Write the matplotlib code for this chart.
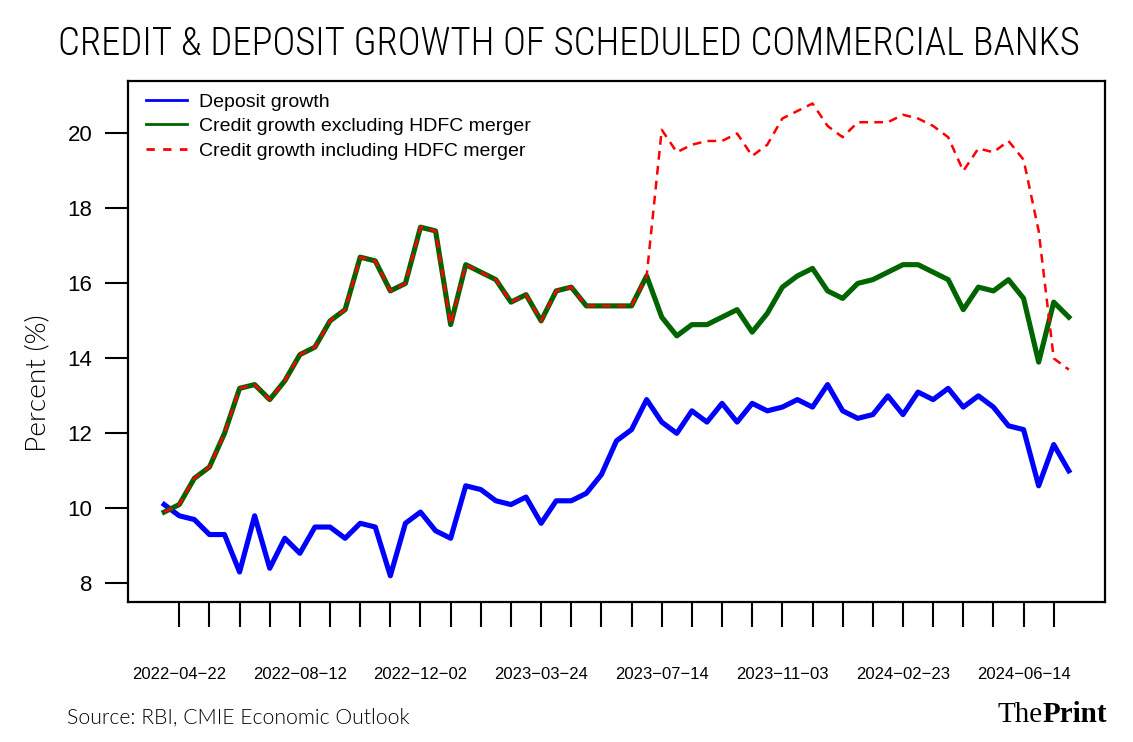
import os
import pandas as pd
import matplotlib
matplotlib.use('Agg')
import matplotlib.pyplot as plt
from matplotlib import font_manager as fm
from matplotlib.lines import Line2D

W, H = 1133, 742

# fortnightly data, 2022-04-08 .. 2024-07-26
dates = pd.date_range('2022-04-08', periods=61, freq='14D')

deposit = [10.1, 9.8, 9.7, 9.3, 9.3, 8.3, 9.8, 8.4, 9.2, 8.8,
           9.5, 9.5, 9.2, 9.6, 9.5, 8.2, 9.6, 9.9, 9.4, 9.2,
           10.6, 10.5, 10.2, 10.1, 10.3, 9.6, 10.2, 10.2, 10.4, 10.9,
           11.8, 12.1, 12.9, 12.3, 12.0, 12.6, 12.3, 12.8, 12.3, 12.8,
           12.6, 12.7, 12.9, 12.7, 13.3, 12.6, 12.4, 12.5, 13.0, 12.5,
           13.1, 12.9, 13.2, 12.7, 13.0, 12.7, 12.2, 12.1, 10.6, 11.7,
           11.0]

credit_ex = [9.9, 10.1, 10.8, 11.1, 12.0, 13.2, 13.3, 12.9, 13.4, 14.1,
             14.3, 15.0, 15.3, 16.7, 16.6, 15.8, 16.0, 17.5, 17.4, 14.9,
             16.5, 16.3, 16.1, 15.5, 15.7, 15.0, 15.8, 15.9, 15.4, 15.4,
             15.4, 15.4, 16.2, 15.1, 14.6, 14.9, 14.9, 15.1, 15.3, 14.7,
             15.2, 15.9, 16.2, 16.4, 15.8, 15.6, 16.0, 16.1, 16.3, 16.5,
             16.5, 16.3, 16.1, 15.3, 15.9, 15.8, 16.1, 15.6, 13.9, 15.5,
             15.1]

credit_in = [9.9, 10.1, 10.8, 11.1, 12.0, 13.2, 13.3, 12.9, 13.4, 14.1,
             14.3, 15.0, 15.3, 16.7, 16.6, 15.8, 16.0, 17.5, 17.4, 14.9,
             16.5, 16.3, 16.1, 15.5, 15.7, 15.0, 15.8, 15.9, 15.4, 15.4,
             15.4, 15.4, 16.2, 20.1, 19.5, 19.7, 19.8, 19.8, 20.0, 19.4,
             19.7, 20.4, 20.6, 20.8, 20.2, 19.9, 20.3, 20.3, 20.3, 20.5,
             20.4, 20.2, 19.9, 19.0, 19.6, 19.5, 19.8, 19.3, 17.4, 14.0,
             13.7]

tick_dates = pd.date_range('2022-04-22', periods=30, freq='28D')
label_dates = ['2022-04-22', '2022-08-12', '2022-12-02', '2023-03-24',
               '2023-07-14', '2023-11-03', '2024-02-23', '2024-06-14']
yticks = [8, 10, 12, 14, 16, 18, 20]

series_labels = ['Deposit growth',
                 'Credit growth excluding HDFC merger',
                 'Credit growth including HDFC merger']


def pick_font(files, fallback='DejaVu Sans'):
    have = {os.path.basename(f.fname).lower(): f.fname for f in fm.fontManager.ttflist}
    for name in files:
        if name.lower() in have:
            return fm.FontProperties(fname=have[name.lower()])
    return fm.FontProperties(family=fallback)


title_fp = pick_font(['RobotoCondensed-Light.ttf', 'Roboto_Condensed-Light.ttf',
                      'RobotoCondensed-Regular.ttf', 'LiberationSansNarrow-Regular.ttf',
                      'DejaVuSansCondensed.ttf'])
light_fp = pick_font(['Lato-Light.ttf', 'Roboto-Light.ttf', 'OpenSans-Light.ttf',
                      'Lato-Regular.ttf'])

plt.rcParams['font.family'] = ['Liberation Sans', 'DejaVu Sans']

fig = plt.figure(figsize=(W / 100, H / 100), dpi=100)
ax = fig.add_axes([128 / W, 1 - 602 / H, (1105 - 128) / W, (602 - 81) / H])

ax.plot(dates, deposit, color='#0000FF', lw=3.7)
ax.plot(dates, credit_ex, color='#006400', lw=3.7)
ax.plot(dates, credit_in, color='#FF0000', lw=1.8, dashes=(3.5, 2.5))

span = dates[-1] - dates[0]
ax.set_xlim(dates[0] - span * 0.04, dates[-1] + span * 0.04)
ax.set_ylim(7.5, 21.4)

ax.set_xticks(tick_dates)
ax.set_xticklabels([d.replace('-', '\u2212') if d in label_dates else ''
                    for d in tick_dates.strftime('%Y-%m-%d')])
ax.set_yticks(yticks)
ax.set_yticklabels([str(v) for v in yticks])
ax.tick_params(axis='x', direction='out', length=18, width=1.5, pad=29, labelsize=12)
ax.tick_params(axis='y', direction='out', length=16.5, width=1.5, pad=9, labelsize=16)
for s in ax.spines.values():
    s.set_linewidth(1.6)

handles = [Line2D([], [], color='#0000FF', lw=2),
           Line2D([], [], color='#006400', lw=2),
           Line2D([], [], color='#FF0000', lw=2, dashes=(3, 3))]
ax.legend(handles, series_labels, loc='upper left', frameon=False,
          bbox_to_anchor=(146 / W, 1 - 93 / H), bbox_transform=fig.transFigure,
          borderaxespad=0, borderpad=0, fontsize=14, handlelength=2.1,
          handletextpad=0.65, labelspacing=0.36)

title = fig.text(569 / W, 1 - 55 / H, 'CREDIT & DEPOSIT GROWTH OF SCHEDULED COMMERCIAL BANKS',
                 ha='center', va='baseline', fontproperties=title_fp, fontsize=40)
ylab = fig.text(38 / W, 1 - 383 / H, 'Percent (%)', rotation=90, ha='center', va='center',
                fontproperties=light_fp, fontsize=19)
src = fig.text(67 / W, 1 - 723 / H, 'Source: RBI, CMIE Economic Outlook', ha='left',
               va='baseline', fontproperties=light_fp, fontsize=15)
prt = fig.text(1107 / W, 1 - 722 / H, 'Print', ha='right', va='baseline',
               family=['Liberation Serif', 'DejaVu Serif'], weight='bold', fontsize=21)

# fit the free texts to the sizes measured on the reference
fig.canvas.draw()
r = fig.canvas.get_renderer()
for t, target in [(title, 1022), (src, 343)]:
    w = t.get_window_extent(r).width
    t.set_fontsize(t.get_fontsize() * target / w)
h = ylab.get_window_extent(r).height
ylab.set_fontsize(ylab.get_fontsize() * 138 / h)

ax.annotate('The', xy=(0, 0), xycoords=prt, ha='right', va='bottom',
            family=['Liberation Serif', 'DejaVu Serif'], fontsize=21)

fig.savefig('out.png', dpi=100)
